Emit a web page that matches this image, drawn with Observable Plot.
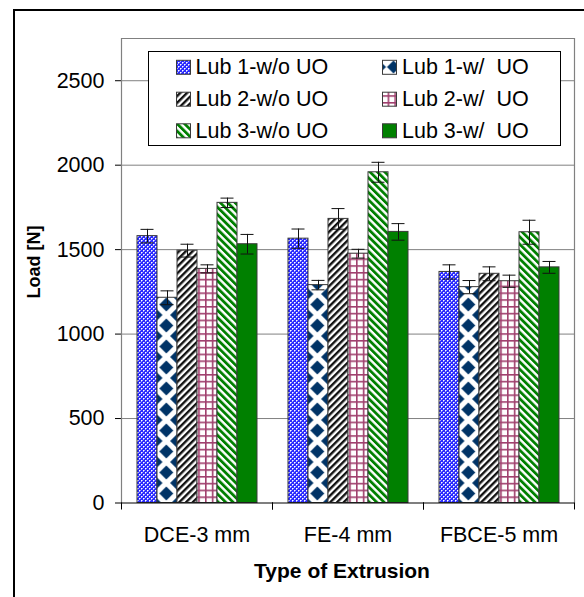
<!DOCTYPE html>
<html><head><meta charset="utf-8">
<script src="https://cdn.jsdelivr.net/npm/d3@7"></script>
<script src="https://cdn.jsdelivr.net/npm/@observablehq/plot@0.6"></script>
<style>
html,body{margin:0;padding:0;background:#fff;overflow:hidden;}
#wrap{position:relative;width:584px;height:597px;overflow:hidden;font-family:"Liberation Sans",Arial,sans-serif;background:#fff;}
#border{position:absolute;left:13px;top:9px;width:700px;height:700px;border-left:2px solid #000;border-top:2px solid #000;}
#chart{position:absolute;left:0;top:0;}
#legend{position:absolute;left:0;top:0;pointer-events:none;}
</style></head><body>
<svg width="0" height="0" style="position:absolute">
<defs>
<pattern id="p0" width="4" height="4" patternUnits="userSpaceOnUse">
<rect width="4" height="4" fill="#2b2bff"/>
<rect x="0" y="0" width="1" height="1" fill="#ffffff"/>
<rect x="2" y="2" width="1" height="1" fill="#ffffff"/>
<rect x="1" y="0" width="1" height="1" fill="#a6a6ff"/>
<rect x="0" y="1" width="1" height="1" fill="#a6a6ff"/>
<rect x="3" y="2" width="1" height="1" fill="#a6a6ff"/>
<rect x="2" y="3" width="1" height="1" fill="#a6a6ff"/>
</pattern>
<pattern id="p1" x="154.5" y="0" width="21.667" height="21" patternUnits="userSpaceOnUse">
<rect width="21.667" height="21" fill="#ffffff"/>
<path d="M10.83 3.5L17.83 10.5L10.83 17.5L3.83 10.5Z" fill="#003366"/>
<path d="M0 -7L7 0L0 7L-7 0Z M21.667 -7L28.667 0L21.667 7L14.667 0Z M0 14L7 21L0 28L-7 21Z M21.667 14L28.667 21L21.667 28L14.667 21Z" fill="#003366"/>
</pattern>
<pattern id="p1s" x="176.5" y="60" width="14" height="14" patternUnits="userSpaceOnUse">
<rect width="14" height="14" fill="#ffffff"/>
<path d="M7 0.5L13.5 7L7 13.5L0.5 7Z" fill="#003366"/>
</pattern>
<pattern id="p2" width="4.8" height="4.8" patternUnits="userSpaceOnUse" patternTransform="rotate(45)">
<rect width="4.8" height="4.8" fill="#ffffff"/>
<rect width="2.4" height="4.8" fill="#111111"/>
</pattern>
<pattern id="p3" width="6.8" height="6.8" patternUnits="userSpaceOnUse">
<rect width="6.8" height="6.8" fill="#ffffff"/>
<rect width="1.6" height="6.8" fill="#a0406e"/>
<rect width="6.8" height="1.6" fill="#a0406e"/>
</pattern>
<pattern id="p4" width="5.2" height="5.2" patternUnits="userSpaceOnUse" patternTransform="rotate(-45)">
<rect width="5.2" height="5.2" fill="#ffffff"/>
<rect width="2.8" height="5.2" fill="#008000"/>
</pattern>
</defs></svg>
<div id="wrap"><div id="border"></div><div id="chart"></div><svg id="legend" width="584" height="597"></svg></div>
<script>
// ---- data ----
const categories = ["DCE-3 mm", "FE-4 mm", "FBCE-5 mm"];
const seriesNames = ["Lub 1-w/o UO", "Lub 1-w/  UO", "Lub 2-w/o UO", "Lub 2-w/  UO", "Lub 3-w/o UO", "Lub 3-w/  UO"];
const lub1WithoutUO = [1580, 1565, 1368];
const lub1WithUO    = [1215, 1290, 1278];
const lub2WithoutUO = [1494, 1682, 1357];
const lub2WithUO    = [1386, 1476, 1313];
const lub3WithoutUO = [1777, 1958, 1603];
const lub3WithUO    = [1532, 1605, 1395];
const lub1WithoutUOErr = [40, 57, 42];
const lub1WithUOErr    = [41, 28, 39];
const lub2WithoutUOErr = [38, 61, 41];
const lub2WithUOErr    = [24, 26, 36];
const lub3WithoutUOErr = [28, 59, 71];
const lub3WithUOErr    = [58, 49, 35];
const yTicks = [0, 500, 1000, 1500, 2000, 2500];
const yMax = 2750;
const xTitle = "Type of Extrusion";
const yTitle = "Load [N]";

const seriesValues = [lub1WithoutUO, lub1WithUO, lub2WithoutUO, lub2WithUO, lub3WithoutUO, lub3WithUO];
const seriesErrors = [lub1WithoutUOErr, lub1WithUOErr, lub2WithoutUOErr, lub2WithUOErr, lub3WithoutUOErr, lub3WithUOErr];
const fills = ["url(#p0)", "url(#p1)", "url(#p2)", "url(#p3)", "url(#p4)", "#008000"];
const swatchFills = ["url(#p0)", "url(#p1s)", "url(#p2)", "url(#p3)", "url(#p4)", "#008000"];

const data = [];
categories.forEach((c, i) => seriesNames.forEach((s, j) =>
  data.push({category: c, series: s, value: seriesValues[j][i], error: seriesErrors[j][i]})));

const W = 584, H = 597, mT = 38, mL = 120, mR = 9, mB = 94.5;
const plotH = H - mT - mB;

const chart = Plot.plot({
  width: W, height: H,
  marginTop: mT, marginLeft: mL, marginRight: mR, marginBottom: mB,
  style: {fontFamily: '"Liberation Sans", Arial, sans-serif', fontSize: "21.5px", color: "#000", background: "transparent", overflow: "visible"},
  fx: {domain: categories, padding: 0, axis: "bottom", label: null, tickSize: 0, tickPadding: 24},
  x: {domain: seriesNames, axis: null, paddingInner: 0, paddingOuter: 0.73},
  y: {domain: [0, yMax], ticks: yTicks, tickSize: 6, tickPadding: 11, label: null, tickFormat: d => String(d)},
  color: {domain: seriesNames, range: fills},
  marks: [
    Plot.ruleY(yTicks.filter(t => t > 0), {stroke: "#808080", strokeWidth: 1}),
    Plot.ruleY([yMax], {stroke: "#808080", strokeWidth: 1.2}),
    Plot.frame({anchor: "right", facetAnchor: "right", stroke: "#808080", strokeWidth: 1.2}),
    Plot.barY(data, {fx: "category", x: "series", y: "value", fill: "series", stroke: "#3a3a3a", strokeWidth: 1}),
    Plot.ruleX(data, {fx: "category", x: "series", y1: d => d.value - d.error, y2: d => d.value + d.error, stroke: "#111", strokeWidth: 1}),
    Plot.tickY(data, {fx: "category", x: "series", y: d => d.value + d.error, stroke: "#111", strokeWidth: 1, insetLeft: 3.5, insetRight: 3.5}),
    Plot.tickY(data, {fx: "category", x: "series", y: d => d.value - d.error, stroke: "#111", strokeWidth: 1, insetLeft: 3.5, insetRight: 3.5}),
    Plot.frame({anchor: "left", facetAnchor: "left", stroke: "#808080", strokeWidth: 1.2}),
    Plot.ruleY([0], {stroke: "#000", strokeWidth: 1.2}),
    Plot.frame({anchor: "left", insetTop: plotH, insetBottom: -6, stroke: "#000"}),
    Plot.frame({anchor: "right", insetTop: plotH, insetBottom: -6, stroke: "#000"})
  ]
});
document.getElementById("chart").appendChild(chart);

const svg = d3.select(chart);
svg.append("text")
  .attr("x", 342).attr("y", 578)
  .attr("text-anchor", "middle")
  .attr("font-weight", "bold").attr("font-size", "21px")
  .attr("fill", "#000")
  .text(xTitle);
svg.append("text")
  .attr("transform", "translate(39.5,262) rotate(-90)")
  .attr("text-anchor", "middle")
  .attr("font-weight", "bold").attr("font-size", "18px")
  .attr("fill", "#000")
  .text(yTitle);

// ---- legend ----
const lg = d3.select("#legend");
lg.append("rect").attr("x", 148.5).attr("y", 51.5).attr("width", 412).attr("height", 94)
  .attr("fill", "#fff").attr("stroke", "#000").attr("stroke-width", 1);
const colX = [176, 382], textX = [195.5, 402], baseY = [74.3, 106.2, 137.8];
seriesNames.forEach((s, i) => {
  const col = i % 2, row = Math.floor(i / 2);
  lg.append("rect").attr("x", colX[col] + 0.5).attr("y", baseY[row] - 14).attr("width", 14).attr("height", 14)
    .attr("fill", swatchFills[i]).attr("stroke", "#3a3a3a").attr("stroke-width", 1);
  lg.append("text").attr("x", textX[col]).attr("y", baseY[row])
    .attr("font-family", '"Liberation Sans", Arial, sans-serif').attr("font-size", "21.5px")
    .attr("fill", "#000").attr("xml:space", "preserve").style("white-space", "pre")
    .text(s);
});
</script>
</body></html>
